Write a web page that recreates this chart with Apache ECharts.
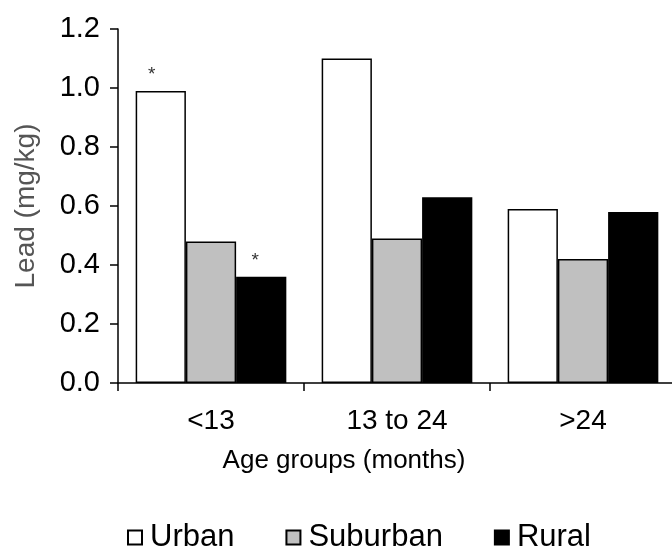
<!DOCTYPE html>
<html>
<head>
<meta charset="utf-8">
<script src="https://cdn.jsdelivr.net/npm/echarts@6/dist/echarts.min.js"></script>
<style>
  html, body { margin: 0; padding: 0; background: #fff; }
  #chart { width: 672px; height: 547px; }
</style>
</head>
<body>
<div id="chart"></div>
<script>
// Age groups on the category axis
var categories = ['<13', '13 to 24', '>24'];

// Mean lead concentration (mg/kg) per residence type
var urban    = [0.99, 1.10, 0.59];
var suburban = [0.48, 0.49, 0.42];
var rural    = [0.36, 0.63, 0.58];

// Groups whose bars carry a significance marker
var urbanMarked = [true, false, false];
var ruralMarked = [true, false, false];

var yTicks = { min: 0, max: 1.2, step: 0.2 };

var font = 'Liberation Sans, Arial, Helvetica, sans-serif';

function withMarks(values, marks, offset) {
  return values.map(function (v, i) {
    if (!marks[i]) return v;
    return {
      value: v,
      label: {
        show: true,
        position: 'top',
        distance: 7,
        offset: offset,
        formatter: '*',
        fontFamily: font,
        fontSize: 19,
        color: '#333'
      }
    };
  });
}

var chart = echarts.init(document.getElementById('chart'), null, { renderer: 'canvas' });

chart.setOption({
  animation: false,
  backgroundColor: '#fff',
  grid: {
    left: 118, right: -4, top: 29, bottom: 164,
    containLabel: false,
    outerBoundsMode: 'none'
  },
  legend: {
    left: 122,
    top: 517,
    padding: 5,
    itemWidth: 14,
    itemHeight: 14,
    itemGap: 51,
    icon: 'rect',
    textStyle: { fontFamily: font, fontSize: 31, color: '#000', padding: [0, 0, 0, 3] },
    data: ['Urban', 'Suburban', 'Rural']
  },
  xAxis: {
    type: 'category',
    data: categories,
    name: 'Age groups (months)',
    nameLocation: 'middle',
    nameGap: 65,
    nameTextStyle: { fontFamily: font, fontSize: 26, color: '#000', padding: [0, 106, 0, 0] },
    axisLine: { lineStyle: { color: '#000', width: 1.5 } },
    axisTick: { show: true, length: 8, lineStyle: { color: '#000', width: 1.5 } },
    axisLabel: { fontFamily: font, fontSize: 28, color: '#000', margin: 24 },
    splitLine: { show: false }
  },
  yAxis: {
    type: 'value',
    min: yTicks.min,
    max: yTicks.max,
    interval: yTicks.step,
    name: 'Lead (mg/kg)',
    nameLocation: 'middle',
    nameGap: 78,
    nameTextStyle: { fontFamily: font, fontSize: 28, color: '#555' },
    axisLine: { show: true, lineStyle: { color: '#000', width: 1.5 } },
    axisTick: { show: true, length: 8, lineStyle: { color: '#000', width: 1.5 } },
    axisLabel: {
      fontFamily: font, fontSize: 29, color: '#000', margin: 18,
      formatter: function (v) { return v.toFixed(1); }
    },
    splitLine: { show: false }
  },
  series: [
    {
      name: 'Urban',
      type: 'bar',
      barGap: '0%',
      barCategoryGap: '19%',
      data: withMarks(urban, urbanMarked, [-9, 0]),
      itemStyle: { color: '#fff', borderColor: '#000', borderWidth: 1.5 }
    },
    {
      name: 'Suburban',
      type: 'bar',
      data: suburban,
      itemStyle: { color: '#c0c0c0', borderColor: '#000', borderWidth: 1.5 }
    },
    {
      name: 'Rural',
      type: 'bar',
      data: withMarks(rural, ruralMarked, [-6, 0]),
      itemStyle: { color: '#000', borderColor: '#000', borderWidth: 1.5 }
    }
  ]
});
</script>
</body>
</html>
